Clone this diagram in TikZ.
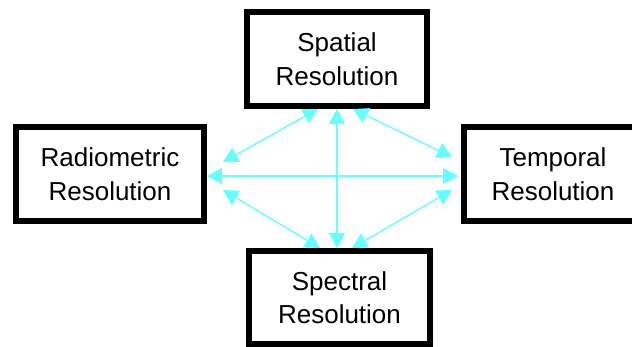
\documentclass[tikz,border=0pt]{standalone}
\usepackage{fontspec}
\setmainfont{Liberation Sans}
\usetikzlibrary{arrows.meta,calc}
\definecolor{linkcyan}{RGB}{102,255,255}
\tikzset{
  resbox/.style={draw=black, line width=6pt, fill=white, inner sep=0pt,
    minimum height=94pt, align=center, font=\fontsize{26}{33.5}\selectfont},
  link/.style={draw=linkcyan, line width=1.4pt,
    {Triangle[length=15pt,width=16pt]}-{Triangle[length=15pt,width=16pt]}}
}
\begin{document}
\begin{tikzpicture}[x=1pt,y=-1pt]
\useasboundingbox (0,0) rectangle (632,347);
\node[resbox, minimum width=180pt] (top) at (337,59) {Spatial\\Resolution};
\node[resbox, minimum width=188pt] (left) at (110,174) {Radiometric\\Resolution};
\node[resbox, minimum width=178pt] (right) at (553,174) {Temporal\\Resolution};
\node[resbox, minimum width=181pt, minimum height=93pt] (bottom) at (339.5,297.5) {Spectral\\Resolution};
\draw[link] (top.south) -- (top.south |- bottom.north);
\draw[link] ([yshift=-2pt]left.east) -- ([xshift=-3pt,yshift=-2pt]right.west);
\draw[link] ([xshift=-19pt]top.south) -- ([xshift=16pt,yshift=12pt]left.east);
\draw[link] ([xshift=16pt]top.south) -- ([xshift=-9pt,yshift=17pt]right.west);
\draw[link] ([xshift=16pt,yshift=-16pt]left.east) -- ([xshift=-19.5pt]bottom.north);
\draw[link] ([xshift=-9pt,yshift=-16pt]right.west) -- ([xshift=12.5pt]bottom.north);
\end{tikzpicture}
\end{document}
